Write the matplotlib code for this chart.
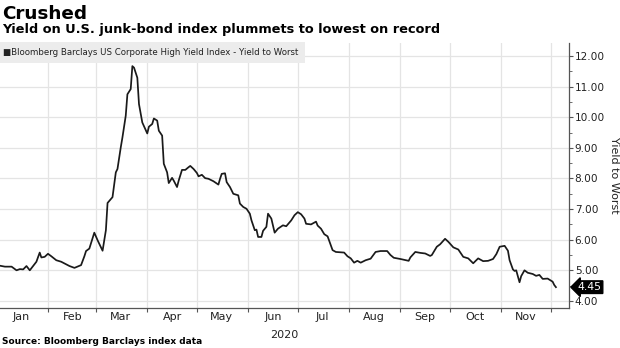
#!/usr/bin/env python3

import numpy as np
import matplotlib
matplotlib.use('Agg')
import matplotlib.pyplot as plt
import matplotlib.dates as mdates
import matplotlib.ticker as mticker


# days after 2020-01-01
day_offsets = [
    2, 5, 9, 12, 14, 16, 18, 20, 22, 24, 26, 27, 29, 31, 33, 36, 39, 44, 47, 50,
    51, 53, 54, 56, 59, 61, 64, 66, 67, 70, 72, 73, 75, 76, 78, 79, 81, 82, 83, 85,
    86, 88, 91, 92, 94, 95, 97, 98, 100, 101, 103, 104, 106, 107, 109, 110, 112, 114, 116, 117,
    119, 121, 122, 124, 126, 128, 131, 134, 135, 136, 138, 139, 141, 143, 146, 147, 149, 151, 153, 154,
    156, 157, 158, 160, 161, 163, 164, 166, 168, 170, 173, 175, 178, 180, 182, 184, 186, 187, 190, 193,
    194, 196, 198, 200, 203, 205, 210, 212, 214, 216, 218, 220, 223, 226, 229, 232, 236, 238, 240, 244,
    249, 250, 253, 256, 259, 262, 263, 266, 268, 271, 273, 276, 279, 282, 285, 288, 291, 294, 297, 300,
    302, 304, 307, 309, 310, 312, 313, 314, 316, 317, 319, 321, 324, 326, 328, 330, 333, 336, 337, 338,
]
yields = [
    5.15, 5.12, 5.12, 5.00, 5.04, 5.03, 5.14, 5.00, 5.14, 5.28, 5.58, 5.42, 5.44, 5.54, 5.46, 5.33, 5.28, 5.14, 5.08, 5.15,
    5.17, 5.46, 5.63, 5.71, 6.23, 5.98, 5.64, 6.31, 7.20, 7.39, 8.20, 8.31, 9.02, 9.34, 10.05, 10.75, 10.92, 11.67, 11.62, 11.29,
    10.43, 9.83, 9.47, 9.69, 9.78, 9.96, 9.89, 9.56, 9.40, 8.48, 8.20, 7.85, 8.02, 7.93, 7.72, 7.93, 8.28, 8.28, 8.37, 8.41,
    8.31, 8.18, 8.07, 8.12, 8.01, 7.99, 7.91, 7.80, 7.99, 8.15, 8.17, 7.88, 7.72, 7.50, 7.45, 7.18, 7.07, 7.01, 6.85, 6.63,
    6.31, 6.33, 6.09, 6.09, 6.29, 6.42, 6.85, 6.69, 6.23, 6.36, 6.47, 6.44, 6.63, 6.80, 6.90, 6.83, 6.69, 6.52, 6.50, 6.59,
    6.46, 6.36, 6.18, 6.11, 5.66, 5.60, 5.58, 5.46, 5.39, 5.25, 5.31, 5.25, 5.33, 5.38, 5.60, 5.63, 5.63, 5.50, 5.41, 5.37,
    5.31, 5.42, 5.60, 5.57, 5.55, 5.47, 5.50, 5.77, 5.85, 6.03, 5.93, 5.75, 5.68, 5.44, 5.39, 5.23, 5.39, 5.30, 5.31, 5.37,
    5.53, 5.77, 5.80, 5.64, 5.33, 5.03, 4.98, 5.00, 4.61, 4.81, 5.00, 4.92, 4.88, 4.82, 4.85, 4.72, 4.73, 4.63, 4.52, 4.45,
]
month_labels = ['Jan', 'Feb', 'Mar', 'Apr', 'May', 'Jun', 'Jul', 'Aug', 'Sep', 'Oct', 'Nov']
last_value = 4.45

title = 'Crushed'
subtitle = 'Yield on U.S. junk-bond index plummets to lowest on record'
series_name = 'Bloomberg Barclays US Corporate High Yield Index - Yield to Worst'
source = 'Source: Bloomberg Barclays index data'

start = np.datetime64('2020-01-01')
dates = start + np.array(day_offsets)

plt.rcParams['font.family'] = ['DejaVu Sans']

fig = plt.figure(figsize=(6.2, 3.48), dpi=100)
ax = fig.add_axes([0.0, 0.115, 0.918, 0.761])

grid_col = '#e4e4e4'
ink = '#222222'
ax.plot(dates, yields, color='#1a1a1a', lw=1.25, zorder=3)

ax.set_xlim(dates[0], start + np.timedelta64(346, 'D'))
ax.set_ylim(3.77, 12.42)

# x axis: ticks at month starts, labels mid-month
ax.xaxis.set_major_locator(mdates.MonthLocator())
ax.xaxis.set_major_formatter(mticker.NullFormatter())
ax.xaxis.set_minor_locator(mdates.MonthLocator(bymonthday=16))
ax.xaxis.set_minor_formatter(mdates.DateFormatter('%b'))
ax.tick_params(axis='x', which='major', length=3, color='#555555', direction='out')
ax.tick_params(axis='x', which='minor', length=0, pad=3, labelsize=8, labelcolor=ink)

# y axis on the right
ax.yaxis.tick_right()
ax.yaxis.set_label_position('right')
ax.yaxis.set_major_locator(mticker.MultipleLocator(1))
ax.yaxis.set_minor_locator(mticker.MultipleLocator(0.5))
ax.yaxis.set_major_formatter(mticker.FormatStrFormatter('%.2f'))
ax.tick_params(axis='y', which='major', length=3, pad=1, labelsize=7.6, color='#555555', labelcolor=ink)
ax.tick_params(axis='y', which='minor', length=2, color='#555555')
ax.set_ylabel('Yield to Worst', rotation=270, fontsize=8, color=ink, labelpad=10)

ax.grid(True, which='major', color=grid_col, lw=0.9)
ax.set_axisbelow(True)
for side in ['left', 'top']:
    ax.spines[side].set_visible(False)
for side in ['right', 'bottom']:
    ax.spines[side].set_color('#555555')
    ax.spines[side].set_linewidth(0.9)

ax.text(0.5, -0.085, '2020', transform=ax.transAxes, ha='center', va='top',
        fontsize=8, color=ink)

# last value tag
ax.annotate(f'{last_value:.2f}', xy=(1.0, last_value), xycoords=('axes fraction', 'data'),
            xytext=(6, 0), textcoords='offset points', ha='left', va='center',
            fontsize=7.8, color='white', annotation_clip=False,
            bbox=dict(boxstyle='larrow,pad=0.12', fc='black', ec='black'))

# legend strip
ax.text(0.006, 0.966, '\u25a0' + series_name, transform=ax.transAxes, ha='left', va='center',
        fontsize=6.2, color=ink, zorder=5,
        bbox=dict(boxstyle='square,pad=0.7', fc='#ececec', ec='none'))

fig.text(0.003, 0.985, title, ha='left', va='top', fontsize=13.2, fontweight='bold', color='black')
fig.text(0.003, 0.935, subtitle, ha='left', va='top', fontsize=9.3, fontweight='bold', color='black')
fig.text(0.003, 0.005, source, ha='left', va='bottom', fontsize=6.5, fontweight='bold', color='black')

fig.savefig('out.png', dpi=100)
